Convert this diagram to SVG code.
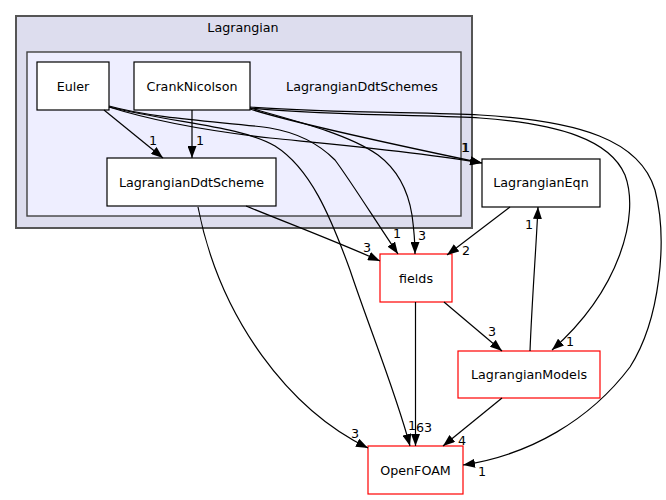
<svg xmlns="http://www.w3.org/2000/svg" width="666" height="500" viewBox="0 0 666 500">
<style>
text{font-family:"DejaVu Sans","Liberation Sans",sans-serif;font-size:12.7px;fill:#000;text-anchor:middle}
.node rect{fill:#fff;stroke:#000;stroke-width:1.2}
.red rect{stroke:#ff0000}
.edges path{fill:none;stroke:#000;stroke-width:1.2}
.lbl{font-size:12.7px}
</style>
<defs>
<marker id="ah" markerWidth="12" markerHeight="9" refX="12" refY="4.5" orient="auto" markerUnits="userSpaceOnUse">
<path d="M0,0 L12,4.5 L0,9 z" fill="#000"/>
</marker>
</defs>
<rect width="666" height="500" fill="#fff"/>
<g id="cluster_Lagrangian">
<rect x="16" y="16" width="456" height="212" fill="#ddddee" stroke="#555" stroke-width="2"/>
<text x="243" y="32">Lagrangian</text>
</g>
<g id="cluster_LagrangianDdtSchemes">
<rect x="27" y="52" width="434" height="164" fill="#eeeeff" stroke="#404040" stroke-width="1.4"/>
<text x="362" y="91">LagrangianDdtSchemes</text>
</g>
<g id="Euler" class="node"><rect x="37" y="62" width="72" height="48"/><text x="73" y="91">Euler</text></g>
<g id="CrankNicolson" class="node"><rect x="134" y="62" width="116" height="48"/><text x="192" y="91">CrankNicolson</text></g>
<g id="LagrangianDdtScheme" class="node"><rect x="107" y="158" width="169" height="48"/><text x="191.5" y="187">LagrangianDdtScheme</text></g>
<g id="LagrangianEqn" class="node"><rect x="482" y="159" width="118" height="48"/><text x="541" y="187">LagrangianEqn</text></g>
<g id="fields" class="node red"><rect x="380" y="254" width="72" height="48"/><text x="416" y="283">fields</text></g>
<g id="LagrangianModels" class="node red"><rect x="458" y="351" width="142" height="47"/><text x="529" y="379">LagrangianModels</text></g>
<g id="OpenFOAM" class="node red"><rect x="368" y="446" width="95" height="48"/><text x="415.5" y="475">OpenFOAM</text></g>
<g id="edges" class="edges">
<path d="M104,110 L163,158" marker-end="url(#ah)"/>
<path d="M192,110 L192,158" marker-end="url(#ah)"/>
<path d="M246,206 C290,224 340,243 380,261" marker-end="url(#ah)"/>
<path d="M198,207 C220,320 290,410 368,448" marker-end="url(#ah)"/>
<path d="M109,107 C150,120 200,130 270,138 C340,145 420,152 482,163" marker-end="url(#ah)"/>
<path d="M109,106 C160,120 230,122 270,128 C300,133 320,145 335,160 C350,180 375,220 398,254" marker-end="url(#ah)"/>
<path d="M109,107 C180,124 240,126 275,146 C310,168 330,215 350,270 C370,330 395,390 410,446" marker-end="url(#ah)"/>
<path d="M250,109 C300,125 420,150 482,163" marker-end="url(#ah)"/>
<path d="M250,108 C300,122 350,135 378,155 C398,170 408,190 412,215 C414,230 415,245 415,254" marker-end="url(#ah)"/>
<path d="M250,108 C330,116 440,115 480,118 C560,124 610,140 625,175 C640,215 620,290 552,350" marker-end="url(#ah)"/>
<path d="M250,107 C330,113 430,112 480,115 C580,121 640,140 655,190 C668,240 660,320 630,367 C590,420 530,455 463,465" marker-end="url(#ah)"/>
<path d="M510,207 L447,255" marker-end="url(#ah)"/>
<path d="M530,351 C532,300 536,250 538,207" marker-end="url(#ah)"/>
<path d="M444,302 L502,351" marker-end="url(#ah)"/>
<path d="M415.5,302 L415.5,446" marker-end="url(#ah)"/>
<path d="M502,398 L443,446" marker-end="url(#ah)"/>
</g>
<g id="edge_labels">
<text x="153" y="145">1</text>
<text x="200" y="145">1</text>
<text x="465" y="152">1</text>
<text x="466" y="152">1</text>
<text x="367" y="252">3</text>
<text x="397" y="238">1</text>
<text x="422" y="240">3</text>
<text x="466" y="255">2</text>
<text x="529" y="229">1</text>
<text x="492" y="336">3</text>
<text x="570" y="346">1</text>
<text x="355" y="438">3</text>
<text x="412" y="430">1</text>
<text x="424" y="432">63</text>
<text x="462" y="445">4</text>
<text x="482" y="476">1</text>
</g>
</svg>
